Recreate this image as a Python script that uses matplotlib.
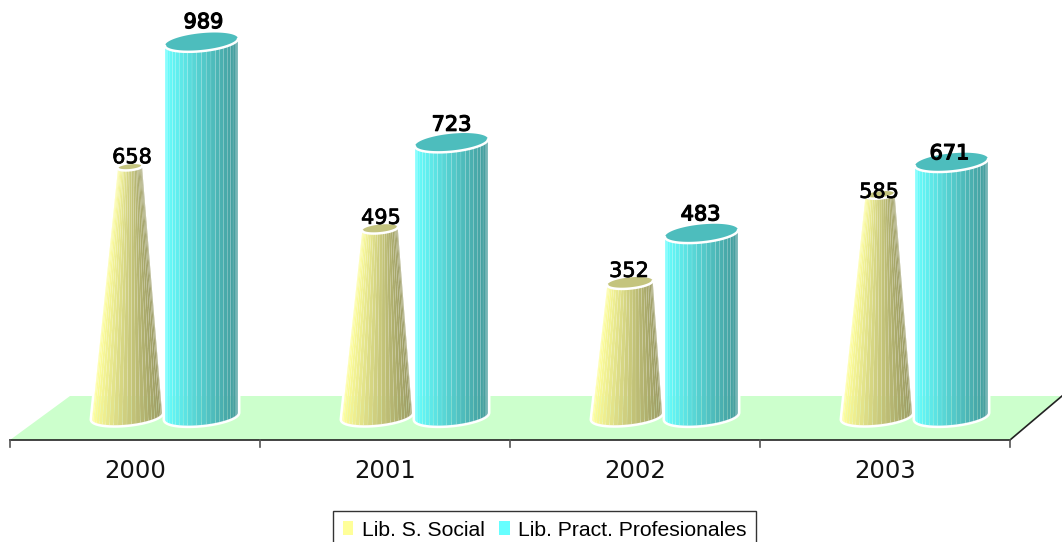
import numpy as np
import matplotlib
matplotlib.use('Agg')
from matplotlib import pyplot as plt
from matplotlib.collections import PolyCollection
from matplotlib.patches import Patch, Polygon
import matplotlib.patheffects as pe

# Datos
anios = ['2000', '2001', '2002', '2003']
social = [658, 495, 352, 585]
profesionales = [989, 723, 483, 671]

# Desplazamiento de las etiquetas en pixeles (x, y)
off_social = [(5, 10), (4, 11), (2, 12), (2, 3)]
off_prof = [(2, 20), (0, 18), (-1, 19), (-2, 9)]

PX_X = 250.0            # pixeles por categoria
PX_Y = 0.378            # pixeles por unidad
VMAX = 1000.0           # altura donde el cono llega a punta
N = 24

fig = plt.figure(figsize=(10.62, 5.42), dpi=100)
ax = fig.add_axes([0, 0, 1, 1])
ax.set_xlim(-135 / PX_X, (1062 - 135) / PX_X)
ax.set_ylim((416 - 542) / PX_Y, 416 / PX_Y)
ax.axis('off')


def px(dx):
    return dx / PX_X


def py(dy):
    return dy / PX_Y


def punto(cx, z, r, t):
    # r en categorias, elipse inclinada proporcional al radio
    f = r / px(36.5)
    x = cx + r * np.cos(t)
    y = z + py(9) * f * np.sin(t) + py(3.5) * f * np.cos(t)
    return x, y


def columna(cx, valor, radio, claro, oscuro, tapa, conico):
    r_top = radio * (1 - valor / VMAX) if conico else radio
    cx_top = cx + px(3) if conico else cx
    ts = np.linspace(np.pi, 2 * np.pi, N + 1)
    polys, colores = [], []
    for k in range(N):
        a, b = ts[k], ts[k + 1]
        polys.append([punto(cx, 0, radio, a), punto(cx, 0, radio, b),
                      punto(cx_top, valor, r_top, b), punto(cx_top, valor, r_top, a)])
        f = (np.cos((a + b) / 2) + 1) / 2
        colores.append(tuple(np.array(claro) + (np.array(oscuro) - np.array(claro)) * f))
    # silueta blanca
    tt = np.linspace(np.pi, 2 * np.pi, 60)
    abajo = [punto(cx, 0, radio, t) for t in tt]
    arriba = [punto(cx_top, valor, r_top, t) for t in tt[::-1]]
    ax.add_patch(Polygon(abajo + arriba, closed=True, facecolor='none',
                         edgecolor='white', linewidth=3.6, zorder=3))
    ax.add_collection(PolyCollection(polys, facecolors=colores, edgecolors=[(1, 1, 1, 0.12)],
                                     linewidths=0.5, zorder=3))
    # tapa
    tc = np.linspace(0, 2 * np.pi, 80)
    ax.add_patch(Polygon([punto(cx_top, valor, r_top, t) for t in tc], closed=True,
                         facecolor=tapa, edgecolor='none', zorder=3))
    xs, ys = zip(*[punto(cx_top, valor, r_top, t) for t in tt])
    ax.plot(xs, ys, color='white', lw=1.8, zorder=3, solid_capstyle='round')


# Piso
ax.add_patch(Polygon([(px(10 - 135), py(416 - 440)), (px(70 - 135), py(416 - 396)),
                      (px(1062 - 135), py(416 - 396)), (px(1010 - 135), py(416 - 440))],
                     closed=True, facecolor='#CCFFCC', edgecolor='none', zorder=1))
ax.plot([px(1010 - 135), px(1062 - 135)], [py(416 - 440), py(416 - 396)], color='#222222', lw=1.2, zorder=2)

# Eje x
ax.plot([-0.5, 3.5], [py(416 - 440)] * 2, color='#222222', lw=1.2, zorder=2)
for i in range(5):
    ax.plot([i - 0.5, i - 0.5], [py(416 - 440), py(416 - 447)], color='#555555', lw=1.2, zorder=2)
for i, a in enumerate(anios):
    ax.text(i, py(416 - 471), a, ha='center', va='center', fontsize=17.5, color='#111111',
            family='DejaVu Sans')

# Columnas
for i in range(len(anios)):
    columna(i - px(8), social[i], px(35), (1.0, 1.0, 0.6), (0.6, 0.6, 0.38), '#C4C47E', True)
    columna(i + px(66.5), profesionales[i], px(36.5), (0.40, 1.0, 1.0), (0.26, 0.60, 0.60), '#4DBDBD', False)

# Etiquetas
for i in range(len(anios)):
    for cx, v, off, peso in ((i - px(8), social[i], off_social[i], 0.5),
                             (i + px(66.5), profesionales[i], off_prof[i], 0.9)):
        ax.text(cx + px(off[0]), v + py(off[1]), str(v), ha='center', va='center',
                fontsize=15, color='black', zorder=5, family='DejaVu Sans',
                path_effects=[pe.withStroke(linewidth=peso, foreground='black')])

# Leyenda
h = [Patch(facecolor='#FFFF99', edgecolor='none'), Patch(facecolor='#66FFFF', edgecolor='none')]
leg = ax.legend(h, ['Lib. S. Social', 'Lib. Pract. Profesionales'], ncol=2,
                loc='lower left', bbox_to_anchor=(333 / 1062, -7 / 542), borderaxespad=0,
                handlelength=0.5, handleheight=0.6, handletextpad=0.4, columnspacing=0.7,
                borderpad=0.45, fancybox=False, framealpha=1, edgecolor='#333333',
                prop={'family': 'Liberation Sans', 'size': 15.2})
leg.get_frame().set_linewidth(1.0)

plt.savefig('out.png', dpi=100)
